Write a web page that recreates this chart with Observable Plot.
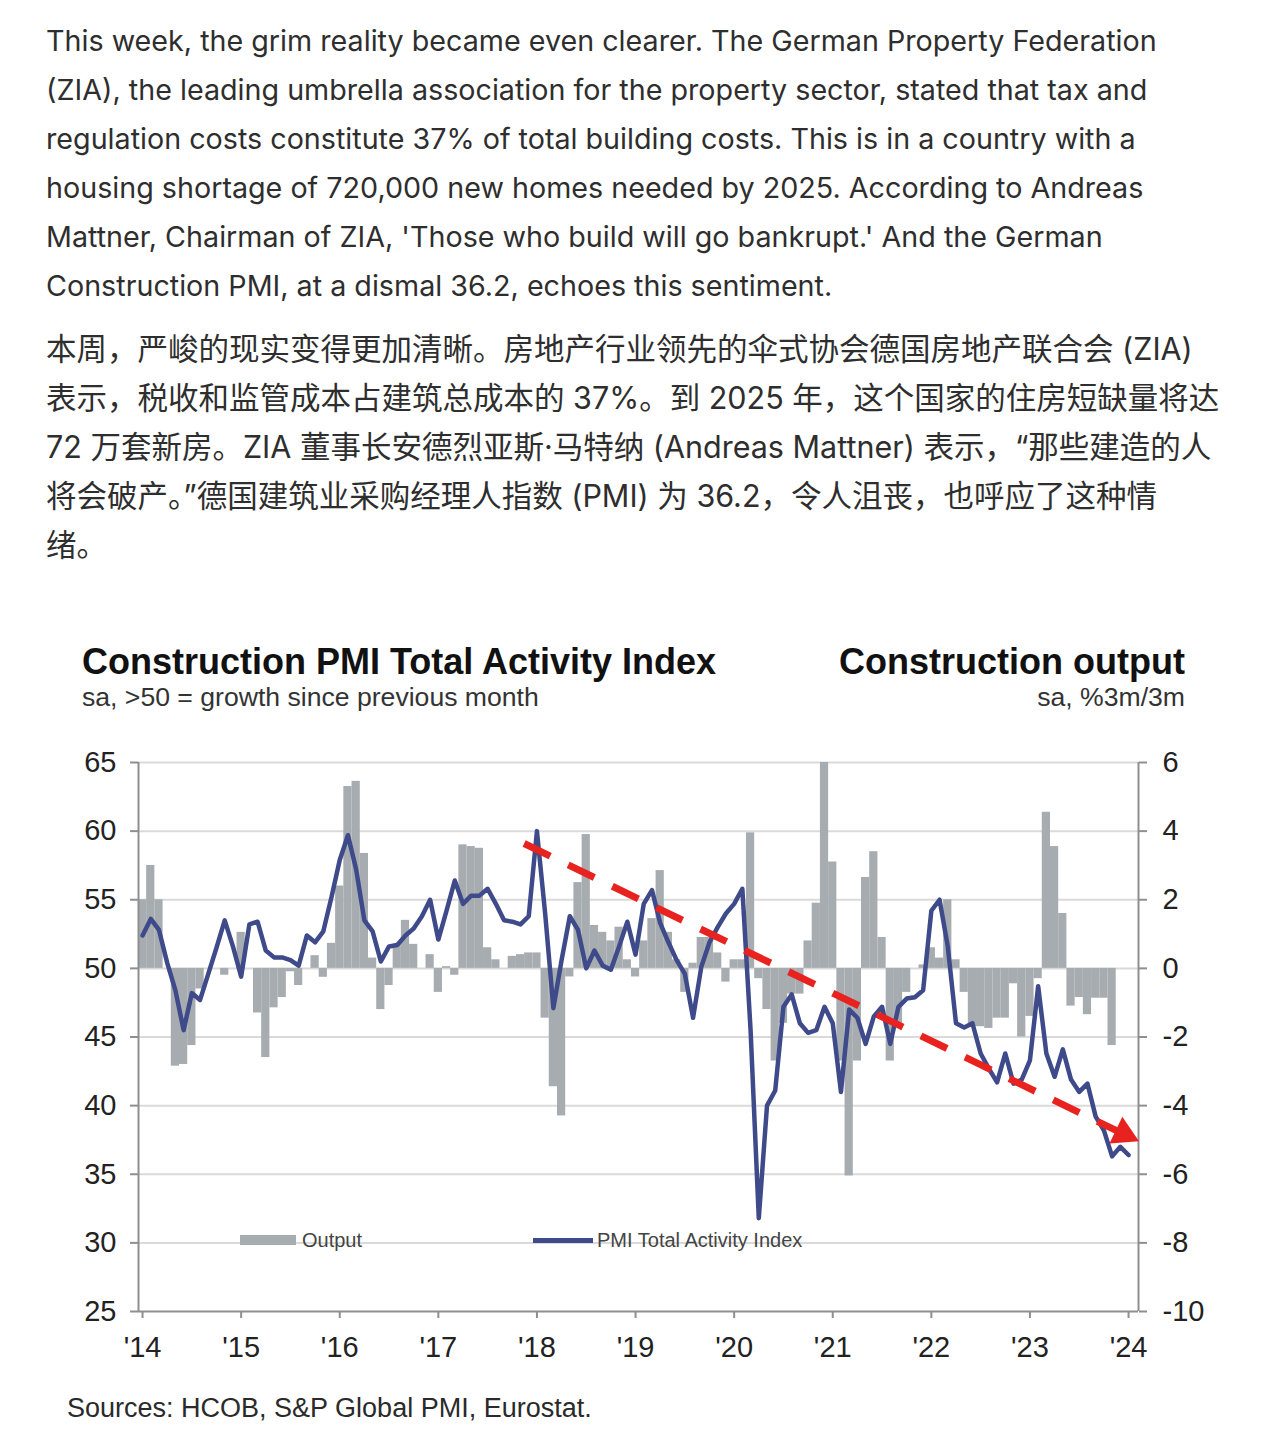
<!DOCTYPE html>
<html>
<head>
<meta charset="utf-8">
<script src="https://cdn.jsdelivr.net/npm/d3@7"></script>
<script src="https://cdn.jsdelivr.net/npm/@observablehq/plot@0.6"></script>
<style>
  html, body { margin: 0; padding: 0; background: #fff; }
  body { width: 1280px; height: 1441px; position: relative; overflow: hidden; }
  .para { position: absolute; left: 46px; line-height: 49px; color: #2e2e2e; white-space: nowrap; }
  .en { top: 16px; font-size: 28.7px; font-family: Inter, "Noto Sans", sans-serif; }
  .zh { top: 324px; font-size: 30.5px; font-family: Inter, "Noto Sans CJK SC", sans-serif; }
  .ct { position: absolute; font-family: "Liberation Sans", Arial, sans-serif; color: #111; white-space: nowrap; line-height: 1; }
  .title { font-size: 36px; font-weight: bold; }
  .sub { font-size: 26.6px; color: #333; }
  #chart { position: absolute; left: 0; top: 740px; }
  .leg { position: absolute; font-family: "Liberation Sans", Arial, sans-serif; font-size: 20px; color: #444; line-height: 1; white-space: nowrap; }
  .sw { position: absolute; }
</style>
</head>
<body>
<div class="para en">
This week, the grim reality became even clearer. The German Property Federation<br>
(ZIA), the leading umbrella association for the property sector, stated that tax and<br>
regulation costs constitute 37% of total building costs. This is in a country with a<br>
housing shortage of 720,000 new homes needed by 2025. According to Andreas<br>
Mattner, Chairman of ZIA, 'Those who build will go bankrupt.' And the German<br>
Construction PMI, at a dismal 36.2, echoes this sentiment.
</div>
<div class="para zh">
本周，严峻的现实变得更加清晰。房地产行业领先的伞式协会德国房地产联合会 (ZIA)<br>
表示，税收和监管成本占建筑总成本的 37%。到 2025 年，这个国家的住房短缺量将达<br>
72 万套新房。ZIA 董事长安德烈亚斯·马特纳 (Andreas Mattner) 表示，“那些建造的人<br>
将会破产。”德国建筑业采购经理人指数 (PMI) 为 36.2，令人沮丧，也呼应了这种情<br>
绪。
</div>

<div class="ct title" style="left:82px; top:644px;">Construction PMI Total Activity Index</div>
<div class="ct sub" style="left:82px; top:684px;">sa, &gt;50 = growth since previous month</div>
<div class="ct title" style="right:95px; top:644px;">Construction output</div>
<div class="ct sub" style="right:95px; top:684px;">sa, %3m/3m</div>

<div id="chart"></div>

<div class="sw" style="left:240px; top:1235px; width:56px; height:10px; background:#a7acb0;"></div>
<div class="leg" style="left:302px; top:1230px;">Output</div>
<div class="sw" style="left:533px; top:1238px; width:60px; height:5px; background:#3e4a89;"></div>
<div class="leg" style="left:597px; top:1230px;">PMI Total Activity Index</div>

<div class="ct" style="left:67px; top:1395px; font-size:27px; color:#2a2a2a;">Sources: HCOB, S&amp;P Global PMI, Eurostat.</div>

<script>
// ---- data (monthly, Jan 2014 .. Jan 2024) ----
const startYear = 2014;
const pmi = [
  52.4, 53.6, 52.8, 50.4, 48.4, 45.5, 48.2, 47.7, 49.6, 51.5, 53.5, 51.6,
  49.4, 53.2, 53.4, 51.3, 50.8, 50.8, 50.6, 50.2, 52.4, 51.9, 52.7, 55.2,
  57.9, 59.7, 57.2, 53.5, 52.7, 50.5, 51.6, 51.7, 52.4, 52.9, 53.8, 55.0,
  52.1, 54.2, 56.4, 54.7, 55.3, 55.3, 55.8, 54.7, 53.5, 53.4, 53.2, 53.8,
  60.0, 54.0, 47.1, 50.6, 53.8, 52.8, 50.0, 51.3, 50.2, 49.9, 51.6, 53.4,
  51.0, 54.7, 55.7, 53.3, 51.9, 50.6, 49.6, 46.4, 50.1, 51.9, 53.0, 54.0,
  54.7, 55.8, 45.5, 31.8, 40.0, 41.1, 47.2, 48.1, 46.0, 45.3, 45.5, 47.2,
  46.0, 41.0, 47.0, 46.4, 44.5, 46.5, 47.2, 44.5, 47.2, 47.8, 47.9, 48.4,
  54.2, 55.0, 51.6, 46.0, 45.7, 46.0, 43.8, 42.7, 41.7, 43.8, 41.6, 41.9,
  43.3, 48.7, 43.8, 42.1, 44.1, 41.9, 41.0, 41.6, 39.2, 38.2, 36.3, 37.0,
  36.4
];
const output = [
  2.0, 3.0, 2.0, 0.0, -2.85, -2.8, -2.25, -0.6, 0.0, 0.0, -0.2, 0.0,
  1.05, 0.0, -1.3, -2.6, -1.15, -0.85, -0.1, -0.5, 0.0, 0.37, -0.26, 0.73,
  2.4, 5.3, 5.45, 3.35, 0.3, -1.2, -0.5, 0.7, 1.4, 0.7, 0.0, 0.4,
  -0.7, 0.05, -0.2, 3.6, 3.55, 3.5, 0.6, 0.25, 0.0, 0.35, 0.4, 0.45,
  0.45, -1.45, -3.45, -4.3, -0.25, 2.5, 3.9, 1.25, 1.05, 0.8, 1.2, 0.25,
  -0.25, 0.8, 1.45, 2.85, 1.05, 0.25, -0.7, 0.15, 0.9, 0.9, 0.45, -0.4,
  0.25, 0.25, 3.95, -0.3, -1.2, -2.7, -1.6, -0.75, -0.75, 0.8, 1.9, 6.0,
  3.1, -2.7, -6.05, -2.7, 2.65, 3.4, 0.9, -2.7, -1.6, -0.7, 0.0, 0.1,
  0.6, 0.3, 2.0, 0.25, -0.7, -1.7, -1.7, -1.75, -1.45, -1.45, -0.45, -2.0,
  -1.4, -0.3, 4.55, 3.55, 1.6, -1.1, -0.85, -1.35, -0.87, -0.87, -2.25
];
const leftTicks = [25, 30, 35, 40, 45, 50, 55, 60, 65];
const rightTicks = [-10, -8, -6, -4, -2, 0, 2, 4, 6];
const yearTicks = [2014, 2015, 2016, 2017, 2018, 2019, 2020, 2021, 2022, 2023, 2024];
const gridLevels = [30, 35, 40, 45, 50, 55, 60, 65];
// red dashed trend arrow (annotation), in data terms: [fractional year, PMI]
const arrowShaft = [{t: 2017.87, v: 59.1}, {t: 2023.90, v: 38.1}];
const arrowHead = [{t: 2023.95, v: 37.95}];

// ---- derived ----
const xDomain = [2013.959, 2024.101];
const toLeft = r => 50 + r * 2.5;        // output (right axis) -> PMI (left axis) scale
const lineRows = pmi.map((v, i) => ({t: startYear + i / 12, v}));
const barRows = output.map((v, i) => ({t1: startYear + (i - 0.5) / 12, t2: startYear + (i + 0.5) / 12, v}));

const axisCol = "#8f8f8f";
const chart = Plot.plot({
  width: 1280,
  height: 640,
  marginLeft: 138,
  marginRight: 142,
  marginTop: 22,
  marginBottom: 69,
  x: {domain: xDomain, label: null},
  y: {domain: [25, 65], label: null},
  style: {fontFamily: "'Liberation Sans', Arial, sans-serif", background: "transparent", overflow: "visible"},
  marks: [
    Plot.ruleY(gridLevels, {stroke: "#dadada", strokeWidth: 2}),
    Plot.rect(barRows, {x1: "t1", x2: "t2", y1: () => 50, y2: d => toLeft(d.v), fill: "#a7acb0"}),
    Plot.ruleY([25], {stroke: axisCol, strokeWidth: 2}),
    Plot.ruleX([xDomain[0], xDomain[1]], {y1: 25, y2: 65, stroke: axisCol, strokeWidth: 2}),
    Plot.axisY(leftTicks, {anchor: "left", tickSize: 8, tickPadding: 14, fontSize: 29, stroke: axisCol, fill: "#222", strokeWidth: 2, label: null}),
    Plot.axisY(rightTicks.map(toLeft), {anchor: "right", tickSize: 8, tickPadding: 16, fontSize: 29, stroke: axisCol, fill: "#222", strokeWidth: 2, label: null,
      tickFormat: d => String(Math.round((d - 50) / 2.5))}),
    Plot.axisX(yearTicks, {anchor: "bottom", tickSize: 7, tickPadding: 18, fontSize: 29, stroke: axisCol, fill: "#222", strokeWidth: 2, label: null,
      tickFormat: d => "'" + String(d).slice(2)}),
    Plot.line(lineRows, {x: "t", y: "v", stroke: "#3e4a89", strokeWidth: 4.5, strokeLinejoin: "round"}),
    Plot.line(arrowShaft, {x: "t", y: "v", stroke: "#e8231f", strokeWidth: 7, strokeDasharray: "29,20", strokeLinecap: "butt"}),
    Plot.dot(arrowHead, {x: "t", y: "v", symbol: "triangle", r: 11, fill: "#e8231f", stroke: "none", rotate: 115.7})
  ]
});
document.getElementById("chart").appendChild(chart);
</script>
</body>
</html>
